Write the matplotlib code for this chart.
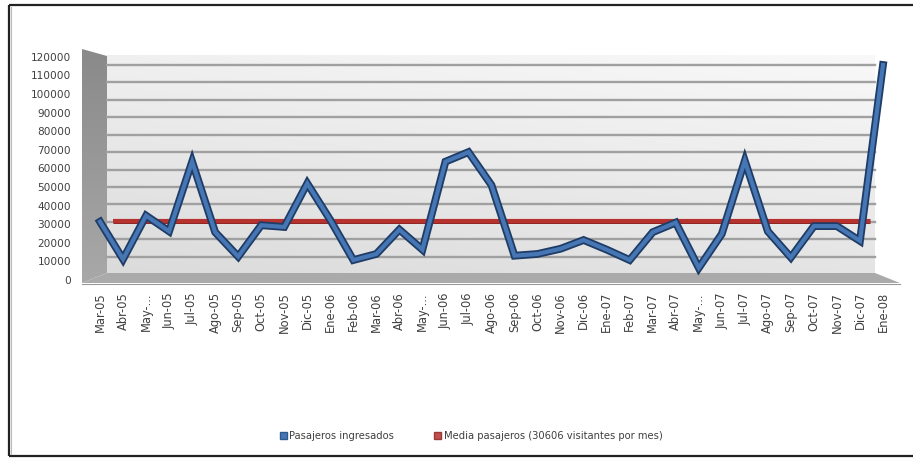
import numpy as np
import matplotlib
matplotlib.use("Agg")
import matplotlib.pyplot as plt
from matplotlib.patches import Polygon, Patch
import matplotlib.patheffects as pe
from matplotlib import transforms

# ---------------- data ----------------
categories = ["Mar-05", "Abr-05", "May-...", "Jun-05", "Jul-05", "Ago-05", "Sep-05",
              "Oct-05", "Nov-05", "Dic-05", "Ene-06", "Feb-06", "Mar-06", "Abr-06",
              "May-...", "Jun-06", "Jul-06", "Ago-06", "Sep-06", "Oct-06", "Nov-06",
              "Dic-06", "Ene-07", "Feb-07", "Mar-07", "Abr-07", "May-...", "Jun-07",
              "Jul-07", "Ago-07", "Sep-07", "Oct-07", "Nov-07", "Dic-07", "Ene-08"]
pasajeros = [30000, 8500, 33500, 24500, 64500, 24000, 10000, 28000, 27000, 52000,
             31000, 8000, 11500, 25500, 14000, 64500, 70000, 51000, 10500, 11500,
             14500, 19500, 14000, 8000, 24000, 29500, 3500, 23000, 65000, 24500,
             9500, 27500, 27500, 19000, 120000]
media = 30606
y_ticks = list(range(0, 130000, 10000))
series_labels = ["Pasajeros ingresados", "Media pasajeros (30606 visitantes por mes)"]

W, H = 913, 458
fig = plt.figure(figsize=(W / 100, H / 100), dpi=100)
fig.patch.set_facecolor("white")

# ---------- background (3D walls) in pixel coordinates ----------
bg = fig.add_axes([0, 0, 1, 1], zorder=0)
bg.set_xlim(0, W)
bg.set_ylim(H, 0)
bg.axis("off")

# back wall gradient
gx = np.linspace(0, 1, 200)
gy = np.linspace(0, 1, 100)
GX, GY = np.meshgrid(gx, gy)
shade = 0.975 - 0.08 * GY - 0.035 * (1 - GX)
img = np.dstack([shade, shade, shade])
bg.imshow(img, extent=(107, 875, 273, 55), aspect="auto", zorder=1, interpolation="bilinear")

# left side wall
lw_poly = Polygon([(82, 49), (107, 56), (107, 273), (82, 283)], closed=True,
                  facecolor="none", edgecolor="none")
bg.add_patch(lw_poly)
lshade = 0.54 + 0.12 * GY
limg = bg.imshow(np.dstack([lshade, lshade, lshade]), extent=(82, 107, 283, 49),
                 aspect="auto", zorder=2, interpolation="bilinear")
limg.set_clip_path(lw_poly)

# floor
bg.add_patch(Polygon([(82, 283), (107, 273), (875, 273), (900, 283)], closed=True,
                     facecolor="#aaaaaa", edgecolor="none", zorder=3))
bg.plot([82, 900], [283.5, 283.5], color="#9a9a9a", lw=0.8, zorder=3)

# border lines of the frame
bg.plot([9, 9], [5, 456], color="#222222", lw=1.6, zorder=5, solid_capstyle="butt")
bg.plot([9, W + 5], [5, 5], color="#222222", lw=1.6, zorder=5, solid_capstyle="butt")
bg.plot([9, W + 5], [456, 456], color="#222222", lw=1.6, zorder=5, solid_capstyle="butt")
bg.plot([11, 11], [7, 454], color="#bbbbbb", lw=0.8, zorder=5)

# ---------- main axes ----------
ax_left, ax_right = 88.5, 894.5
ax_bottom, ax_top = 274, 65
ax = fig.add_axes([ax_left / W, (H - ax_bottom) / H, (ax_right - ax_left) / W,
                   (ax_bottom - ax_top) / H], zorder=2)
ax.set_facecolor("none")
for s in ax.spines.values():
    s.set_visible(False)
n = len(categories)
x = np.arange(n)
ax.set_xlim(-0.5, n - 0.5)
ax.set_ylim(0, 120000)

# gridlines on back wall
gx0 = (107 - ax_left) / (ax_right - ax_left)
gx1 = (875 - ax_left) / (ax_right - ax_left)
for v in y_ticks[1:]:
    ax.axhline(v, xmin=gx0, xmax=gx1, color="#a0a0a0", lw=1.7, zorder=1, clip_on=False)

# mean line (sits deeper in the 3D scene -> slightly narrower)
deep = transforms.Affine2D().translate(-(n - 1) / 2, 0).scale(0.967, 1).translate((n - 1) / 2, 0)
ax.plot(x, [media] * n, color="#b5322f", lw=3.0, transform=deep + ax.transData, zorder=2,
        solid_capstyle="butt",
        path_effects=[pe.Stroke(linewidth=3.6, foreground="#8f2624"), pe.Normal()])

# passengers line
ax.plot(x, pasajeros, color="#4676b3", lw=3.0, zorder=3, clip_on=False,
        solid_joinstyle="miter",
        path_effects=[pe.Stroke(linewidth=5.6, foreground="#1e3c66"), pe.Normal()])

# ticks
ax.set_xticks(x)
ax.set_xticklabels(categories, rotation=90, fontsize=8.3, color="#404040",
                   family="DejaVu Sans")
ax.tick_params(axis="x", length=0, pad=13)
ax.set_yticks([])

# y labels follow the front edge of the left wall
for v in y_ticks:
    ypix = 281 - v / 10000 * 18.6
    bg.text(71, ypix, str(v), ha="right", va="center", fontsize=7.6, color="#404040",
            family="DejaVu Sans", zorder=6)

# legend
handles = [Patch(facecolor="#4676b3", edgecolor="#2f5a90"),
           Patch(facecolor="#c0504d", edgecolor="#9a3a37")]
fig.legend(handles, series_labels, loc="center", bbox_to_anchor=(471 / W, (H - 436) / H),
           ncol=2, frameon=False, fontsize=7.2, handlelength=0.7, handleheight=0.7,
           handletextpad=0.25, columnspacing=4.0, labelcolor="#404040")

fig.savefig("out.png", dpi=100, facecolor="white")
